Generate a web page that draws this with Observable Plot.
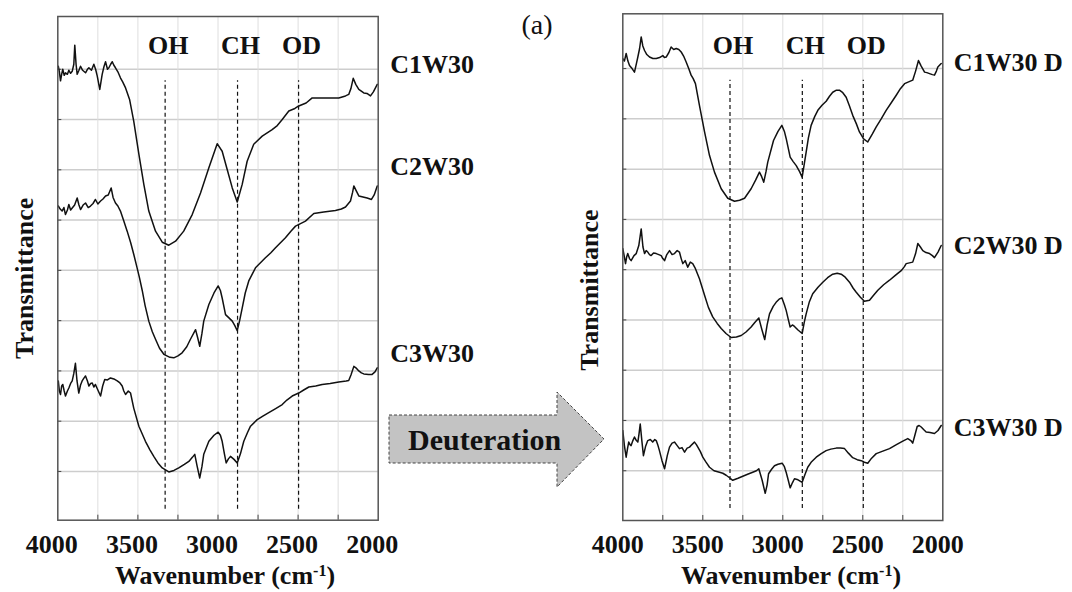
<!DOCTYPE html>
<html><head><meta charset="utf-8">
<script src="https://cdn.jsdelivr.net/npm/d3@7"></script>
<script src="https://cdn.jsdelivr.net/npm/@observablehq/plot@0.6"></script>
<style>
body{margin:0;background:#fff;}
#wrap{position:relative;width:1072px;height:592px;overflow:hidden;font-family:"Liberation Serif","Times New Roman",serif;color:#111;}
.abs{position:absolute;}
.xt{font-size:26px;font-weight:bold;line-height:30px;text-align:center;white-space:nowrap;}
.xt sup{font-size:16px;vertical-align:0.5em;line-height:0;}
</style></head><body><div id="wrap"></div>
<script>
// ---- tick labels / grid ----
const xTickLabels = [4000, 3500, 3000, 2500, 2000];
const xGrid = [3750, 3500, 3250, 3000, 2750, 2500, 2250];
const yGrid = [1, 2, 3, 4, 5, 6, 7, 8, 9];
const bandNames = ["OH", "CH", "OD"];
const bandPos = [3330, 2878, 2497];

// ---- left panel (before deuteration) ----
const leftNames = ["C1W30", "C2W30", "C3W30"];
const leftLabelY = [9.1, 7.07, 3.35];
const c1w30 = [[3997,9.06],[3990,8.95],[3983,8.77],[3976,8.9],[3969,9.0],[3960,8.88],[3952,8.93],[3940,8.9],[3931,8.98],[3920,8.92],[3910,8.96],[3900,9.1],[3894,9.48],[3886,9.1],[3879,8.9],[3868,8.98],[3858,9.06],[3845,8.98],[3827,8.93],[3815,9.0],[3806,9.03],[3790,8.98],[3775,9.1],[3764,9.0],[3754,8.87],[3738,8.6],[3723,8.9],[3712,9.05],[3702,9.15],[3690,9.0],[3681,9.03],[3670,9.1],[3660,9.15],[3650,9.08],[3640,9.03],[3625,8.95],[3609,8.83],[3595,8.75],[3577,8.63],[3565,8.52],[3552,8.4],[3526,7.97],[3494,7.31],[3463,6.71],[3432,6.18],[3390,5.78],[3348,5.56],[3307,5.5],[3265,5.58],[3214,5.78],[3161,6.11],[3109,6.54],[3057,7.04],[3005,7.52],[2974,7.37],[2943,7.01],[2911,6.64],[2880,6.36],[2849,6.71],[2818,7.17],[2777,7.51],[2724,7.67],[2662,7.8],[2630,7.88],[2599,8.0],[2558,8.17],[2520,8.22],[2496,8.27],[2450,8.33],[2412,8.43],[2246,8.43],[2204,8.47],[2184,8.5],[2170,8.62],[2156,8.82],[2140,8.7],[2121,8.6],[2090,8.53],[2070,8.52],[2048,8.47],[2030,8.55],[2006,8.7]];
const c2w30 = [[3997,6.28],[3985,6.22],[3973,6.18],[3962,6.25],[3952,6.11],[3940,6.2],[3931,6.31],[3920,6.2],[3910,6.24],[3895,6.3],[3879,6.44],[3868,6.3],[3858,6.21],[3842,6.3],[3827,6.34],[3810,6.25],[3796,6.28],[3780,6.33],[3765,6.41],[3750,6.32],[3733,6.38],[3718,6.42],[3702,6.48],[3685,6.5],[3667,6.64],[3655,6.45],[3640,6.34],[3625,6.28],[3609,6.18],[3590,6.0],[3567,5.78],[3545,5.55],[3526,5.32],[3505,5.05],[3490,4.85],[3473,4.6],[3455,4.3],[3432,3.99],[3410,3.78],[3390,3.63],[3365,3.45],[3338,3.33],[3300,3.27],[3276,3.26],[3250,3.3],[3224,3.36],[3195,3.48],[3172,3.63],[3140,3.82],[3126,3.65],[3114,3.49],[3100,3.75],[3089,3.99],[3057,4.32],[3025,4.55],[2999,4.69],[2985,4.6],[2974,4.45],[2953,4.12],[2930,4.05],[2911,3.99],[2895,3.9],[2880,3.8],[2865,4.0],[2849,4.25],[2830,4.55],[2808,4.79],[2766,5.05],[2704,5.25],[2670,5.35],[2641,5.45],[2610,5.55],[2579,5.65],[2545,5.78],[2516,5.88],[2485,5.93],[2454,5.98],[2402,6.13],[2340,6.16],[2267,6.19],[2230,6.22],[2204,6.26],[2173,6.38],[2160,6.55],[2152,6.68],[2140,6.6],[2121,6.48],[2095,6.46],[2069,6.44],[2042,6.41],[2025,6.5],[2006,6.68]];
const c3w30 = [[3997,2.8],[3990,2.6],[3983,2.53],[3976,2.7],[3969,2.73],[3960,2.6],[3952,2.5],[3940,2.6],[3931,2.66],[3920,2.75],[3910,2.8],[3900,2.95],[3890,3.15],[3880,2.8],[3869,2.56],[3858,2.72],[3848,2.8],[3838,2.85],[3827,2.9],[3815,2.8],[3806,2.7],[3795,2.75],[3785,2.76],[3775,2.68],[3765,2.73],[3750,2.62],[3733,2.5],[3720,2.7],[3707,2.83],[3690,2.82],[3671,2.86],[3650,2.84],[3629,2.8],[3612,2.76],[3598,2.7],[3588,2.6],[3577,2.53],[3560,2.6],[3546,2.56],[3526,2.26],[3494,1.9],[3453,1.6],[3425,1.43],[3401,1.3],[3375,1.17],[3348,1.07],[3307,0.99],[3275,1.02],[3245,1.07],[3210,1.14],[3182,1.2],[3160,1.28],[3145,1.34],[3130,1.1],[3114,0.87],[3100,1.1],[3089,1.34],[3057,1.6],[3025,1.72],[2999,1.78],[2985,1.72],[2974,1.6],[2960,1.35],[2949,1.17],[2935,1.25],[2922,1.3],[2900,1.24],[2880,1.17],[2860,1.35],[2839,1.6],[2815,1.78],[2797,1.9],[2755,2.03],[2720,2.1],[2683,2.17],[2640,2.25],[2599,2.33],[2570,2.42],[2537,2.5],[2496,2.56],[2465,2.62],[2433,2.68],[2390,2.7],[2350,2.73],[2300,2.75],[2246,2.78],[2200,2.8],[2184,2.81],[2170,2.92],[2152,3.09],[2135,3.05],[2121,3.0],[2105,2.96],[2090,2.94],[2060,2.93],[2038,2.93],[2020,2.98],[2006,3.06]];

// ---- right panel (after deuteration) ----
const rightNames = ["C1W30 D", "C2W30 D", "C3W30 D"];
const rightLabelY = [9.12, 5.48, 1.86];
const c1w30d = [[4000,9.2],[3990,9.15],[3979,9.3],[3968,9.15],[3958,9.06],[3942,9.0],[3927,8.93],[3915,9.1],[3906,9.23],[3895,9.4],[3885,9.63],[3875,9.45],[3864,9.36],[3850,9.28],[3833,9.23],[3812,9.2],[3791,9.2],[3770,9.22],[3750,9.26],[3740,9.22],[3729,9.23],[3712,9.32],[3698,9.43],[3682,9.38],[3666,9.4],[3650,9.38],[3635,9.33],[3620,9.25],[3604,9.13],[3588,9.0],[3573,8.87],[3560,8.8],[3546,8.7],[3521,8.27],[3489,7.74],[3458,7.27],[3427,6.94],[3385,6.61],[3344,6.42],[3302,6.36],[3270,6.38],[3239,6.42],[3198,6.61],[3170,6.78],[3146,6.94],[3132,6.85],[3119,6.74],[3105,6.95],[3094,7.14],[3058,7.57],[3030,7.75],[3006,7.87],[2990,7.75],[2979,7.61],[2954,7.24],[2935,7.15],[2916,7.07],[2895,6.95],[2879,6.84],[2866,7.1],[2854,7.34],[2840,7.62],[2823,7.87],[2800,8.05],[2781,8.17],[2755,8.27],[2729,8.35],[2708,8.45],[2688,8.53],[2665,8.57],[2646,8.57],[2625,8.52],[2604,8.43],[2585,8.27],[2563,8.07],[2540,7.9],[2521,7.74],[2495,7.6],[2469,7.54],[2440,7.7],[2416,7.84],[2385,8.0],[2354,8.17],[2320,8.33],[2291,8.47],[2265,8.6],[2239,8.7],[2210,8.74],[2188,8.77],[2170,8.95],[2152,9.16],[2135,9.05],[2114,8.93],[2100,8.92],[2083,8.9],[2065,8.88],[2052,8.87],[2040,8.95],[2031,9.03],[2010,9.1]];
const c2w30d = [[4000,5.42],[3990,5.25],[3983,5.12],[3976,5.25],[3969,5.32],[3958,5.22],[3948,5.18],[3930,5.28],[3916,5.32],[3900,5.48],[3885,5.81],[3874,5.45],[3864,5.32],[3854,5.38],[3844,5.35],[3833,5.3],[3823,5.28],[3808,5.33],[3791,5.32],[3775,5.3],[3760,5.28],[3750,5.22],[3739,5.18],[3725,5.3],[3708,5.38],[3692,5.3],[3677,5.32],[3660,5.38],[3646,5.35],[3635,5.22],[3625,5.12],[3610,5.18],[3594,5.05],[3578,5.15],[3563,5.12],[3546,5.02],[3521,4.82],[3489,4.49],[3465,4.25],[3438,4.06],[3410,3.93],[3385,3.83],[3355,3.73],[3323,3.65],[3290,3.66],[3260,3.69],[3230,3.76],[3198,3.86],[3175,3.95],[3150,4.04],[3130,3.8],[3113,3.61],[3098,3.9],[3083,4.12],[3060,4.27],[3042,4.35],[3020,4.42],[3006,4.44],[2990,4.3],[2979,4.19],[2965,4.0],[2954,3.86],[2940,3.9],[2927,3.87],[2905,3.8],[2879,3.73],[2866,3.95],[2854,4.12],[2835,4.35],[2813,4.52],[2780,4.65],[2750,4.75],[2720,4.84],[2688,4.91],[2660,4.93],[2635,4.91],[2610,4.85],[2583,4.75],[2560,4.63],[2541,4.55],[2515,4.45],[2490,4.37],[2458,4.39],[2430,4.5],[2406,4.59],[2370,4.7],[2333,4.79],[2295,4.89],[2260,4.98],[2240,5.06],[2229,5.12],[2188,5.15],[2170,5.32],[2156,5.52],[2140,5.45],[2125,5.38],[2105,5.34],[2083,5.32],[2065,5.28],[2052,5.24],[2030,5.35],[2010,5.48]];
const c3w30d = [[4000,1.8],[3990,1.5],[3979,1.27],[3970,1.45],[3963,1.57],[3955,1.52],[3948,1.5],[3937,1.6],[3927,1.67],[3915,1.6],[3906,1.57],[3898,1.75],[3891,1.93],[3881,1.6],[3871,1.3],[3858,1.48],[3844,1.6],[3828,1.62],[3813,1.57],[3800,1.62],[3791,1.6],[3780,1.5],[3771,1.4],[3755,1.2],[3739,1.04],[3722,1.3],[3708,1.47],[3692,1.55],[3677,1.57],[3660,1.5],[3646,1.44],[3630,1.46],[3614,1.37],[3598,1.45],[3583,1.47],[3568,1.52],[3552,1.57],[3540,1.52],[3531,1.47],[3515,1.38],[3500,1.27],[3480,1.17],[3458,1.07],[3430,1.0],[3396,0.97],[3375,0.95],[3354,0.91],[3333,0.86],[3313,0.81],[3280,0.85],[3250,0.89],[3220,0.93],[3188,0.97],[3165,1.0],[3150,1.04],[3129,0.81],[3110,0.55],[3098,0.72],[3089,0.94],[3070,1.03],[3052,1.1],[3030,1.13],[3004,1.15],[2990,1.08],[2979,0.97],[2965,0.8],[2954,0.66],[2940,0.76],[2927,0.84],[2905,0.82],[2879,0.77],[2862,0.92],[2844,1.07],[2820,1.18],[2791,1.27],[2760,1.34],[2729,1.4],[2700,1.43],[2666,1.45],[2640,1.45],[2614,1.44],[2590,1.35],[2563,1.26],[2535,1.22],[2510,1.2],[2490,1.17],[2469,1.15],[2445,1.25],[2416,1.34],[2375,1.39],[2333,1.44],[2290,1.52],[2250,1.59],[2219,1.64],[2200,1.6],[2188,1.55],[2175,1.7],[2160,1.88],[2148,1.9],[2135,1.87],[2120,1.82],[2104,1.77],[2080,1.76],[2052,1.74],[2030,1.8],[2010,1.9]];

const serif = '"Liberation Serif","Times New Roman",serif';
const wrap = document.getElementById("wrap");

function panel(o) {
  const rows = o.series.flatMap((s, i) => s.map(([w, v]) => ({w, v, name: o.names[i]})));
  const y0 = o.yDomain[0];
  const chart = Plot.plot({
    width: o.width, height: 592,
    marginLeft: o.frameLeft, marginRight: o.width - o.frameRight,
    marginTop: o.frameTop, marginBottom: 592 - o.frameBottom,
    x: {domain: [4000, 2000]},
    y: {domain: o.yDomain, axis: null},
    style: {fontFamily: serif, background: "transparent", color: "#111", overflow: "visible"},
    marks: [
      Plot.ruleY(yGrid, {stroke: "#cdcdcd", strokeWidth: 1.5}),
      Plot.ruleX(xGrid, {stroke: "#dedede", strokeWidth: 1}),
      Plot.ruleX(xGrid, {y1: y0, y2: y0 + 0.1, stroke: "#444", strokeWidth: 1}),
      Plot.ruleY(yGrid, {x1: 4000, x2: 3975, stroke: "#444", strokeWidth: 1}),
      Plot.ruleX(bandPos, {y1: 0.25, y2: 8.77, stroke: "#111", strokeWidth: 1.2, strokeDasharray: "4,3"}),
      Plot.line(rows, {x: "w", y: "v", z: "name", stroke: "#111", strokeWidth: 1.5}),
      Plot.frame({stroke: "#555", strokeWidth: 1.5}),
      Plot.text(bandNames, {x: (d, i) => bandPos[i], y: 9.46, dx: 3, fontSize: 26, fontWeight: "bold", fill: "#111"}),
      Plot.text(o.names, {x: 2000, y: (d, i) => o.labelY[i], dx: o.labelDx, textAnchor: "start", fontSize: 26, fontWeight: "bold", fill: "#111"}),
      Plot.text(["Transmittance"], {frameAnchor: "left", textAnchor: "middle", rotate: -90, dx: -33, dy: o.titleDy, fontSize: 26, fontWeight: "bold", fill: "#111"}),
      Plot.axisX({ticks: xTickLabels, tickSize: 0, tickPadding: 14, label: null, tickFormat: d => String(d), fontSize: 26, fontWeight: "bold", dx: o.tickDx, fill: "#111"})
    ]
  });
  chart.style.position = "absolute";
  chart.style.left = o.left + "px";
  chart.style.top = "0px";
  wrap.appendChild(chart);
}

panel({series: [c1w30, c2w30, c3w30], names: leftNames, labelY: leftLabelY, left: 0, width: 560,
  frameLeft: 57.3, frameRight: 377.7, frameTop: 16, frameBottom: 519.7, yDomain: [0.03, 10.05],
  labelDx: 12, tickDx: -6, titleDy: 10});
panel({series: [c1w30d, c2w30d, c3w30d], names: rightNames, labelY: rightLabelY, left: 560, width: 512,
  frameLeft: 62.3, frameRight: 382.3, frameTop: 13.3, frameBottom: 520, yDomain: [0.01, 10.09],
  labelDx: 11, tickDx: -5, titleDy: 23});

// x-axis titles, panel tag
function addHtml(html, cls, left, top, width, extra) {
  const d = document.createElement("div");
  d.className = "abs " + cls;
  d.style.left = left + "px"; d.style.top = top + "px"; d.style.width = width + "px";
  if (extra) Object.assign(d.style, extra);
  d.innerHTML = html;
  wrap.appendChild(d);
}
addHtml("Wavenumber (cm<sup>-1</sup>)", "xt", 25, 561, 400);
addHtml("Wavenumber (cm<sup>-1</sup>)", "xt", 591, 561, 400);
addHtml("(a)", "xt", 507, 10, 60, {fontWeight: "normal", fontSize: "28px"});

// Deuteration arrow (decoration)
const svg = d3.select(wrap).append("svg")
  .attr("width", 1072).attr("height", 592)
  .style("position", "absolute").style("left", "0px").style("top", "0px").style("pointer-events", "none");
svg.append("polygon")
  .attr("points", "389,415 557,415 557,392 604,439 557,487 557,463 389,463")
  .attr("fill", "#c3c3c3").attr("stroke", "#444").attr("stroke-width", 1).attr("stroke-dasharray", "3,2");
svg.append("text").attr("x", 408).attr("y", 450)
  .attr("font-family", serif).attr("font-size", 30).attr("font-weight", "bold").attr("fill", "#111")
  .text("Deuteration");
</script></body></html>
